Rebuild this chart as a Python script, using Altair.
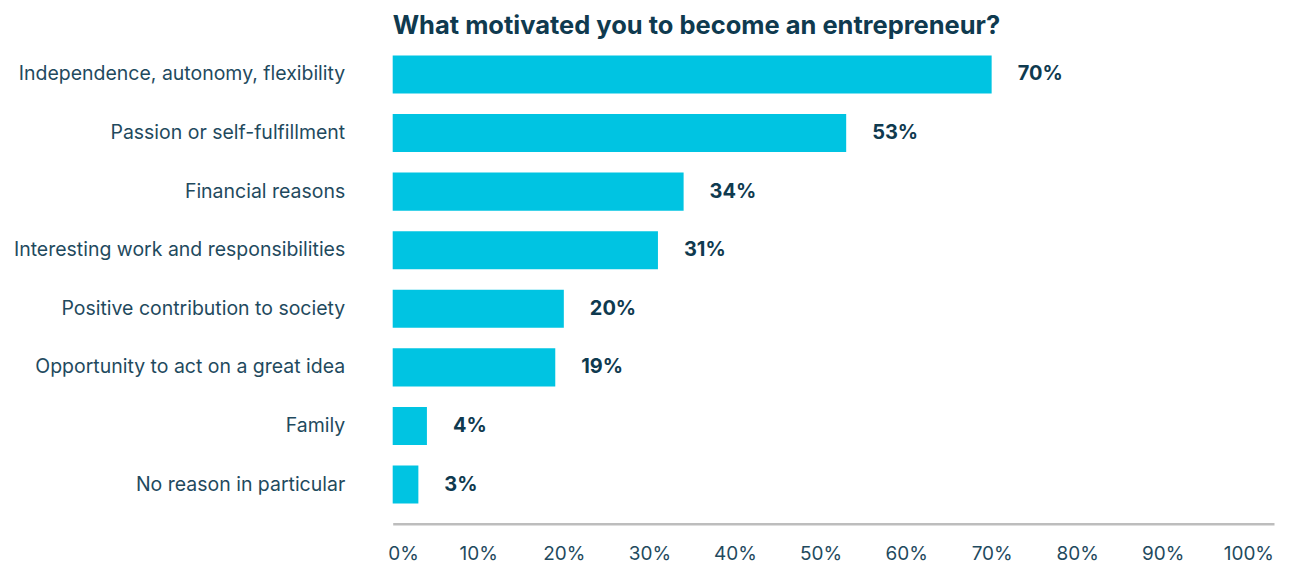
import altair as alt
import pandas as pd

categories = [
    "Independence, autonomy, flexibility",
    "Passion or self-fulfillment",
    "Financial reasons",
    "Interesting work and responsibilities",
    "Positive contribution to society",
    "Opportunity to act on a great idea",
    "Family",
    "No reason in particular",
]
values = [70, 53, 34, 31, 20, 19, 4, 3]
tick_values = [0, 10, 20, 30, 40, 50, 60, 70, 80, 90, 100]

df = pd.DataFrame({"cat": categories, "val": values})
df["lab"] = df["val"].astype(str) + "%"

FONT = "Inter"
DARK = "#0f3a4f"
LABEL = "#1f4a5e"
BAR = "#00c4e2"

y = alt.Y("cat:N", sort=categories, title=None,
          scale=alt.Scale(paddingInner=0.35, paddingOuter=0.175),
          axis=alt.Axis(domain=False, ticks=False, labelFontSize=19.5, labelColor=LABEL,
                        labelFont=FONT, labelPadding=48, labelLimit=400))
x = alt.X("val:Q", title=None,
          scale=alt.Scale(domain=[0, 103], nice=False),
          axis=alt.Axis(values=tick_values, labelExpr="datum.value + '%'", grid=False,
                        ticks=False, domainColor="#bdbdbd", domainWidth=2.5, offset=10,
                        labelFontSize=19, labelColor=LABEL, labelFont=FONT, labelPadding=21,
                        labelFlush=True, labelFlushOffset=5))

bars = alt.Chart(df).mark_bar(color=BAR).encode(x=x, y=y)
text = alt.Chart(df).mark_text(align="left", baseline="middle", dx=26, fontSize=20,
                               fontWeight="bold", font=FONT, color=DARK).encode(
    x=alt.X("val:Q"), y=alt.Y("cat:N", sort=categories), text="lab:N")

chart = (bars + text).properties(
    width=882, height=469,
    title=alt.TitleParams("What motivated you to become an entrepreneur?", anchor="start",
                          frame="group", fontSize=25.5, fontWeight="bold", font=FONT,
                          color=DARK, offset=6),
    autosize=alt.AutoSizeParams(type="none"),
    padding={"left": 385, "top": 37, "right": 10, "bottom": 50},
).configure_view(stroke=None)

chart.save("out.html", embed_options={"renderer": "svg", "actions": False})
